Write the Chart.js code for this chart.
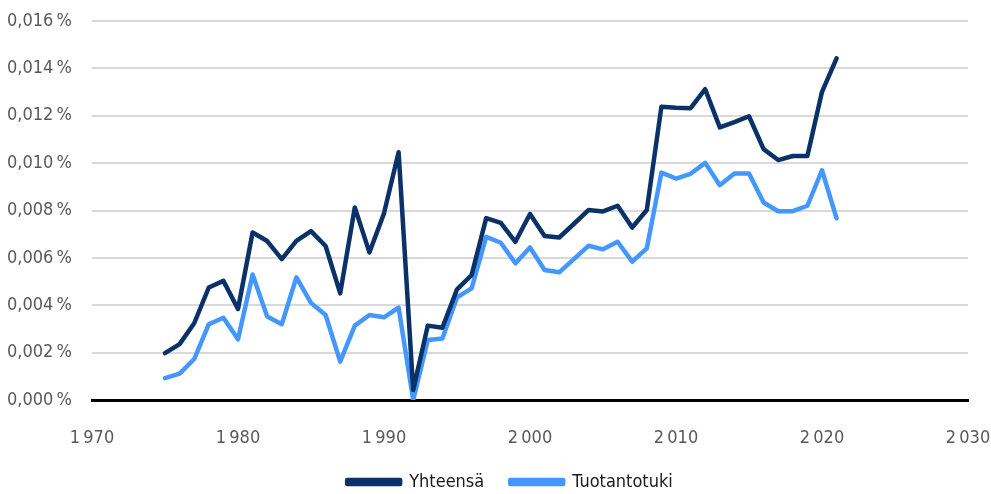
<!DOCTYPE html>
<html>
<head>
<meta charset="utf-8">
<script src="https://cdn.jsdelivr.net/npm/chart.js@4/dist/chart.umd.min.js"></script>
<style>
html,body{margin:0;padding:0;background:#fff;overflow:hidden;}
#wrap{width:991px;height:494px;position:relative;overflow:hidden;}
canvas{display:block;}
</style>
</head>
<body>
<div id="wrap"><canvas id="c" width="991" height="501"></canvas></div>
<script>
const years = [1975,1976,1977,1978,1979,1980,1981,1982,1983,1984,1985,1986,1987,1988,1989,1990,1991,1992,1993,1994,1995,1996,1997,1998,1999,2000,2001,2002,2003,2004,2005,2006,2007,2008,2009,2010,2011,2012,2013,2014,2015,2016,2017,2018,2019,2020,2021];
const yhteensa = [0.00198,0.00236,0.00324,0.00475,0.00503,0.00384,0.00707,0.00671,0.00595,0.00672,0.00713,0.00650,0.00450,0.00813,0.00623,0.00788,0.01046,0.00042,0.00314,0.00305,0.00467,0.00527,0.00768,0.00748,0.00668,0.00785,0.00692,0.00686,0.00743,0.00802,0.00796,0.00820,0.00728,0.00802,0.01238,0.01234,0.01232,0.01312,0.01151,0.01173,0.01198,0.01059,0.01013,0.01030,0.01030,0.01301,0.01442];
const tuotantotuki = [0.00092,0.00111,0.00173,0.00320,0.00347,0.00256,0.00530,0.00352,0.00320,0.00518,0.00410,0.00359,0.00162,0.00314,0.00359,0.00349,0.00390,0.00000,0.00253,0.00260,0.00433,0.00471,0.00689,0.00664,0.00577,0.00644,0.00549,0.00539,0.00595,0.00651,0.00636,0.00668,0.00584,0.00640,0.00960,0.00935,0.00955,0.01001,0.00907,0.00956,0.00956,0.00834,0.00797,0.00797,0.00820,0.00970,0.00767];
const seriesNames = ["Yhteensä","Tuotantotuki"];
const xMin = 1970, xMax = 2030, xStep = 10;
const yMin = 0, yMax = 0.016, yStep = 0.002;

const FONT = '"DejaVu Sans Condensed","Liberation Sans Narrow",sans-serif';
const fmtX = v => { const s = String(v); return s.slice(0,1) + '\u2009' + s.slice(1); };
const fmtY = v => v.toFixed(3).replace('.', ',') + '\u2009%';

const legendShift = {
  id: 'legendShift',
  afterLayout(chart) {
    const lg = chart.legend;
    if (!lg) return;
    const d = 510 - (lg.left + lg.right) / 2;
    lg.left += d; lg.right += d;
  }
};

new Chart(document.getElementById('c'), {
  type: 'line',
  data: {
    datasets: [
      { label: seriesNames[0], data: years.map((x,i)=>({x, y: yhteensa[i]})), borderColor: '#0a3268', backgroundColor: '#0a3268', borderWidth: 4.5, pointRadius: 0, tension: 0, borderJoinStyle: 'round', borderCapStyle: 'round' },
      { label: seriesNames[1], data: years.map((x,i)=>({x, y: tuotantotuki[i]})), borderColor: '#4497ff', backgroundColor: '#4497ff', borderWidth: 4.5, pointRadius: 0, tension: 0, borderJoinStyle: 'round', borderCapStyle: 'round' }
    ]
  },
  plugins: [legendShift],
  options: {
    responsive: false,
    animation: false,
    layout: { padding: { top: 21, right: 23, left: 0, bottom: 0 } },
    plugins: {
      legend: {
        position: 'bottom',
        labels: { font: { family: FONT, size: 18 }, color: '#1a1a1a', boxWidth: 53, boxHeight: 4, padding: 26 }
      },
      tooltip: { enabled: false }
    },
    scales: {
      x: {
        type: 'linear', min: xMin, max: xMax,
        afterFit: s => { s.height = 47; s.paddingLeft = 0; s.paddingRight = 0; },
        ticks: { stepSize: xStep, callback: fmtX, font: { family: FONT, size: 18 }, color: '#595959', padding: 28, maxRotation: 0 },
        grid: { display: false, drawTicks: false },
        border: { display: true, color: '#000', width: 3 }
      },
      y: {
        min: yMin, max: yMax,
        afterFit: s => { s.width = 92; s.paddingTop = 0; s.paddingBottom = 0; },
        ticks: { stepSize: yStep, callback: fmtY, font: { family: FONT, size: 18 }, color: '#595959', padding: 20 },
        grid: { color: '#d9d9d9', lineWidth: 2, drawTicks: false },
        border: { display: false }
      }
    }
  }
});
</script>
</body>
</html>
